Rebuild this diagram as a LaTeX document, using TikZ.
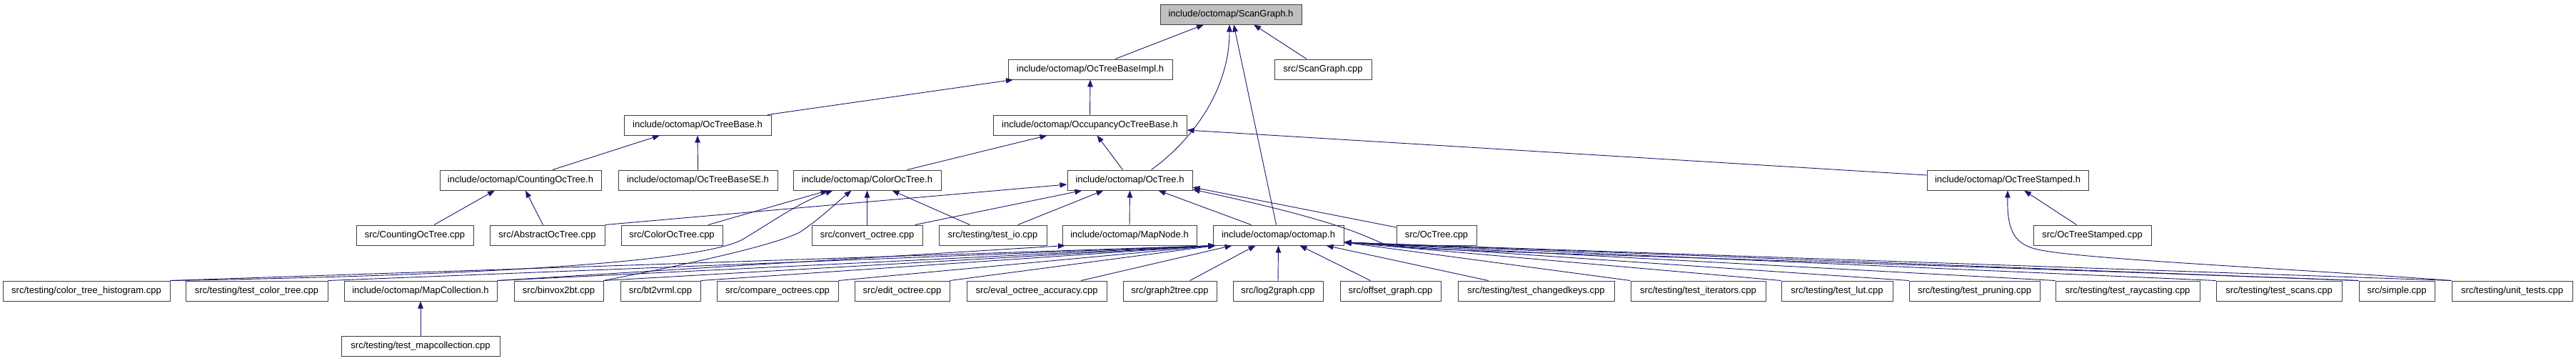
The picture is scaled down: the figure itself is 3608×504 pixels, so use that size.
\documentclass[tikz,border=0pt]{standalone}
\usepackage{fontspec}
\setmainfont{Liberation Sans}
\usetikzlibrary{arrows.meta}
\definecolor{edgec}{RGB}{25,25,112}
\definecolor{rootfill}{RGB}{191,191,191}
\definecolor{boxline}{RGB}{64,64,64}
\newcommand{\bx}[5]{\node[box,minimum width={#3-#2}] (#1) at ({(#2+#3)/2},#4) {#5};}
\begin{document}
\begin{tikzpicture}[x=1pt,y=-1pt,
  box/.style={draw=boxline,line width=1pt,fill=white,minimum height=28pt,inner sep=0pt,font=\fontsize{13}{15}\selectfont},
  edge/.style={draw=edgec,line width=0.9pt,-{Triangle[length=10pt,width=7.5pt]}}]
\useasboundingbox[fill=white] (0,0) rectangle (3608,504);
% row 0
\node[box,fill=rootfill,minimum width=198] (sg) at (1724,20) {include/octomap/ScanGraph.h};
% row 1
\bx{obi}{1412}{1642}{97}{include/octomap/OcTreeBaseImpl.h}
\bx{sgc}{1785}{1921}{97}{src/ScanGraph.cpp}
% row 2
\bx{otb}{874}{1080}{175}{include/octomap/OcTreeBase.h}
\bx{occ}{1391}{1662}{175}{include/octomap/OccupancyOcTreeBase.h}
% row 3
\bx{cot}{616}{842}{252}{include/octomap/CountingOcTree.h}
\bx{otbse}{866}{1089}{252}{include/octomap/OcTreeBaseSE.h}
\bx{cth}{1111}{1318}{252}{include/octomap/ColorOcTree.h}
\bx{oth}{1495}{1670}{252}{include/octomap/OcTree.h}
\bx{ots}{2699}{2925}{252}{include/octomap/OcTreeStamped.h}
% row 4
\bx{cotc}{499}{663}{329}{src/CountingOcTree.cpp}
\bx{aot}{686}{847}{329}{src/AbstractOcTree.cpp}
\bx{cotcpp}{870}{1012}{329}{src/ColorOcTree.cpp}
\bx{conv}{1137}{1292}{329}{src/convert\_octree.cpp}
\bx{tio}{1315}{1466}{329}{src/testing/test\_io.cpp}
\bx{mn}{1488}{1676}{329}{include/octomap/MapNode.h}
\bx{om}{1699}{1882}{329}{include/octomap/octomap.h}
\bx{otc}{1956}{2068}{329}{src/OcTree.cpp}
\bx{otsc}{2848}{3013}{329}{src/OcTreeStamped.cpp}
% row 5
\bx{hist}{4}{238}{407}{src/testing/color\_tree\_histogram.cpp}
\bx{tct}{260}{459}{407}{src/testing/test\_color\_tree.cpp}
\bx{mc}{482}{696}{407}{include/octomap/MapCollection.h}
\bx{bvx}{720}{845}{407}{src/binvox2bt.cpp}
\bx{bvr}{869}{981}{407}{src/bt2vrml.cpp}
\bx{cmp}{1004}{1174}{407}{src/compare\_octrees.cpp}
\bx{edt}{1197}{1330}{407}{src/edit\_octree.cpp}
\bx{evl}{1354}{1550}{407}{src/eval\_octree\_accuracy.cpp}
\bx{gtt}{1573}{1704}{407}{src/graph2tree.cpp}
\bx{ltg}{1727}{1853}{407}{src/log2graph.cpp}
\bx{ofg}{1877}{2018}{407}{src/offset\_graph.cpp}
\bx{tck}{2042}{2261}{407}{src/testing/test\_changedkeys.cpp}
\bx{tit}{2284}{2473}{407}{src/testing/test\_iterators.cpp}
\bx{tlut}{2495}{2651}{407}{src/testing/test\_lut.cpp}
\bx{tpr}{2674}{2857}{407}{src/testing/test\_pruning.cpp}
\bx{tray}{2879}{3081}{407}{src/testing/test\_raycasting.cpp}
\bx{tsc}{3104}{3280}{407}{src/testing/test\_scans.cpp}
\bx{smp}{3304}{3410}{407}{src/simple.cpp}
\bx{unt}{3434}{3603}{407}{src/testing/unit\_tests.cpp}
% row 6
\bx{tmc}{478}{700}{484}{src/testing/test\_mapcollection.cpp}

% edges to ScanGraph.h
\draw[edge] ([xshift=35pt]obi.north) -- ([xshift=-38pt]sg.south);
\draw[edge] ([xshift=30pt]oth.north) .. controls (1665,200) and (1722,130) .. ([xshift=-2pt]sg.south);
\draw[edge] ([xshift=-3pt]om.north) -- ([xshift=4pt]sg.south);
\draw[edge] ([xshift=-23pt]sgc.north) -- ([xshift=32pt]sg.south);
% OcTreeBaseImpl.h
\draw[edge] ([xshift=98pt]otb.north) -- ([xshift=-108pt]obi.south);
\draw[edge] (occ.north) -- (obi.south);
% OcTreeBase.h
\draw[edge] ([xshift=45pt]cot.north) -- ([xshift=-53pt]otb.south);
\draw[edge] (otbse.north) -- (otb.south);
% OccupancyOcTreeBase.h
\draw[edge] ([xshift=56pt]cth.north) -- ([xshift=-60pt]occ.south);
\draw[edge] ([xshift=-10pt]oth.north) -- ([xshift=10pt]occ.south);
\draw[edge] ([yshift=7pt]ots.west) -- ([yshift=-7pt]occ.east);
% CountingOcTree.h
\draw[edge] ([xshift=27pt]cotc.north) -- ([xshift=-36pt]cot.south);
\draw[edge] ([xshift=-6pt]aot.north) -- ([xshift=7pt]cot.south);
% ColorOcTree.h
\draw[edge] ([xshift=51pt]cotcpp.north) -- ([xshift=-55pt]cth.south);
\draw[edge] (conv.north) -- (cth.south);
\draw[edge] ([xshift=-32pt]tio.north) -- ([xshift=35pt]cth.south);
\draw[edge] (hist.north east) .. controls (700,385) and (985,365) .. (1040,335) .. controls (1085,308) and (1120,283) .. ([xshift=-48pt]cth.south);
\draw[edge] (bvx.north east) .. controls (950,372) and (1080,345) .. (1120,325) .. controls (1150,305) and (1170,285) .. ([xshift=-22pt]cth.south);
% OcTree.h
\draw[edge] (aot.north east) -- ([yshift=-6pt]oth.west);
\draw[edge] ([xshift=67pt]conv.north) -- ([xshift=-67pt]oth.south);
\draw[edge] ([xshift=35pt]tio.north) -- ([xshift=-37pt]oth.south);
\draw[edge] (mn.north) -- (oth.south);
\draw[edge] ([xshift=-38pt]om.north) -- ([xshift=40pt]oth.south);
\draw[edge] ([yshift=11pt]otc.west) -- ([yshift=-10pt]oth.east);
\draw[edge] (smp.north west) .. controls (2200,352) and (1970,352) .. (1940,342) .. controls (1910,330) and (1880,310) .. ([yshift=-13pt]oth.east);
% OcTreeStamped.h
\draw[edge] ([xshift=-22pt]otsc.north) -- ([xshift=23pt]ots.south);
\draw[edge] (unt.north west) .. controls (3200,375) and (2900,362) .. (2850,348) .. controls (2820,340) and (2811,320) .. (ots.south);
% MapNode.h, MapCollection.h
\draw[edge] (mc.north east) -- ([xshift=-90pt]mn.south);
\draw[edge] (tmc.north) -- (mc.south);
% octomap.h
\foreach \s in {hist,tct,mc,bvx,bvr,cmp,edt}
  \draw[edge] (\s.north east) -- ([xshift=-88pt]om.south);
\draw[edge] ([xshift=62pt]evl.north) -- ([xshift=-65pt]om.south);
\draw[edge] ([xshift=28pt]gtt.north) -- ([xshift=-32pt]om.south);
\draw[edge] (ltg.north) -- (om.south);
\draw[edge] ([xshift=-28pt]ofg.north) -- ([xshift=30pt]om.south);
\draw[edge] ([xshift=-67pt]tck.north) -- ([xshift=67pt]om.south);
\foreach \s in {tit,tlut,tpr,tray,tsc,smp,unt}
  \draw[edge] (\s.north west) -- ([yshift=-10pt]om.east);
\end{tikzpicture}
\end{document}
